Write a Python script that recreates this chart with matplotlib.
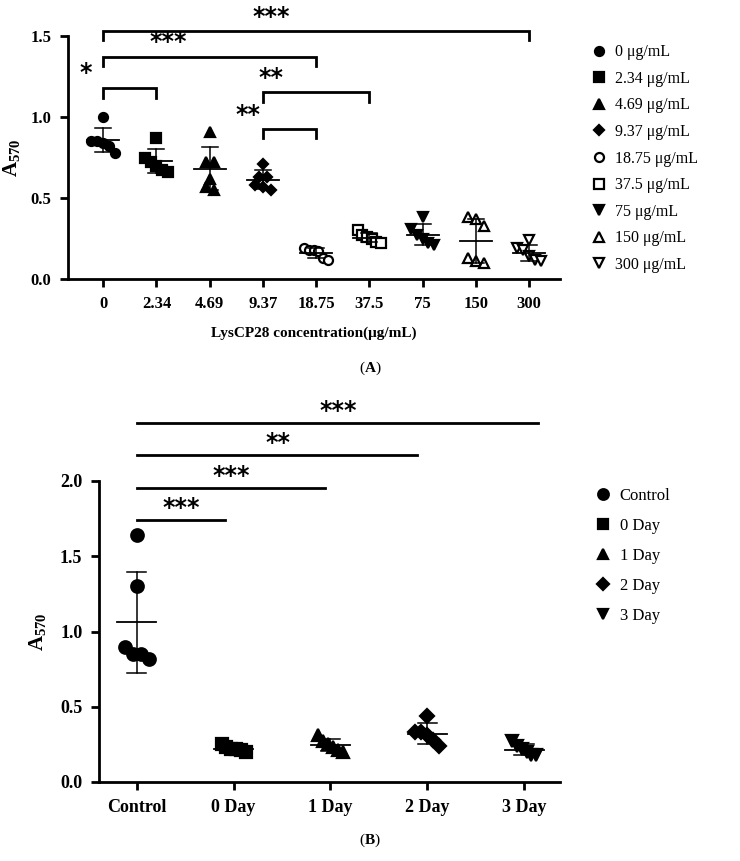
import numpy as np
import matplotlib
matplotlib.use("Agg")
import matplotlib.pyplot as plt
from matplotlib.lines import Line2D

plt.rcParams['font.family'] = ['Liberation Serif', 'DejaVu Serif']
plt.rcParams['mathtext.fontset'] = 'custom'
plt.rcParams['mathtext.rm'] = 'Liberation Serif'
plt.rcParams['mathtext.bf'] = 'Liberation Serif:bold'

# ---- panel A data: LysCP28 concentrations ----
conc_labels = ['0', '2.34', '4.69', '9.37', '18.75', '37.5', '75', '150', '300']
a_0 = [1.00, 0.85, 0.85, 0.84, 0.82, 0.78]
a_234 = [0.87, 0.75, 0.72, 0.70, 0.67, 0.66]
a_469 = [0.91, 0.72, 0.72, 0.62, 0.57, 0.55]
a_937 = [0.71, 0.63, 0.63, 0.58, 0.57, 0.55]
a_1875 = [0.19, 0.18, 0.18, 0.17, 0.13, 0.12]
a_375 = [0.30, 0.27, 0.26, 0.25, 0.23, 0.22]
a_75 = [0.38, 0.31, 0.27, 0.25, 0.22, 0.21]
a_150 = [0.38, 0.37, 0.33, 0.13, 0.11, 0.10]
a_300 = [0.24, 0.19, 0.18, 0.14, 0.12, 0.11]
groups_a = [a_0, a_234, a_469, a_937, a_1875, a_375, a_75, a_150, a_300]

# significance: (group i, group j, stars)
sig_a = [(0, 8, '***'), (0, 4, '***'), (0, 1, '*'), (3, 5, '**'), (3, 4, '**')]

# ---- panel B data: days ----
day_labels = ['Control', '0 Day', '1 Day', '2 Day', '3 Day']
b_ctrl = [1.64, 1.30, 0.90, 0.85, 0.85, 0.82]
b_d0 = [0.25, 0.23, 0.22, 0.22, 0.21, 0.20]
b_d1 = [0.31, 0.27, 0.25, 0.23, 0.21, 0.20]
b_d2 = [0.44, 0.33, 0.33, 0.31, 0.28, 0.24]
b_d3 = [0.27, 0.24, 0.22, 0.20, 0.18, 0.18]
groups_b = [b_ctrl, b_d0, b_d1, b_d2, b_d3]
sig_b = [(0, 1, '***'), (0, 2, '***'), (0, 3, '**'), (0, 4, '***')]

# marker styles (marker, filled, size)
styles_a = [('o', True, 6.5), ('s', True, 6.5), ('^', True, 7), ('D', True, 5),
            ('o', False, 6.5), ('s', False, 6.5), ('v', True, 7),
            ('^', False, 7.5), ('v', False, 7.5)]
styles_b = [('o', True, 9), ('s', True, 8.5), ('^', True, 9), ('D', True, 7),
            ('v', True, 9)]


def spread(vals, w, tol):
    # scatter-dot layout: close values are spread sideways, lone ones stay centred
    order = np.argsort(-vals)
    off = np.zeros(len(vals))
    clusters = [[order[0]]]
    for k in order[1:]:
        if vals[clusters[-1][-1]] - vals[k] < tol:
            clusters[-1].append(k)
        else:
            clusters.append([k])
    for c in clusters:
        n = len(c)
        if n > 1:
            ww = w * min(1.0, (n - 1) / 3)
            off[c] = np.linspace(-ww, ww, n)
    return off


def draw_groups(ax, groups, styles, jit, tol, mw, cw):
    for i, vals in enumerate(groups):
        vals = np.asarray(vals)
        m, filled, ms = styles[i]
        xs = i + spread(vals, jit, tol)
        ax.plot(xs, vals, linestyle='none', marker=m, ms=ms,
                mfc='black' if filled else 'white', mec='black',
                mew=1.6, zorder=2, clip_on=False)
        mean = vals.mean()
        sd = vals.std(ddof=1)
        ax.plot([i - mw, i + mw], [mean, mean], color='black', lw=1.3, zorder=3)
        ax.plot([i, i], [mean - sd, mean + sd], color='black', lw=1.1, zorder=3)
        for yy in (mean - sd, mean + sd):
            ax.plot([i - cw, i + cw], [yy, yy], color='black', lw=1.1, zorder=3)


def style_axis(ax, fs):
    for s in ('top', 'right'):
        ax.spines[s].set_visible(False)
    for s in ('left', 'bottom'):
        ax.spines[s].set_linewidth(2.0)
    ax.tick_params(width=2.0, length=6, direction='out', labelsize=fs, pad=6)
    for lab in ax.get_xticklabels() + ax.get_yticklabels():
        lab.set_fontweight('bold')


def handles(styles, labels, scale):
    out = []
    for (m, filled, ms), lab in zip(styles, labels):
        out.append(Line2D([], [], linestyle='none', marker=m, ms=ms * scale,
                          mfc='black' if filled else 'white', mec='black',
                          mew=1.6, label=lab))
    return out


fig = plt.figure(figsize=(7.4, 8.61), dpi=100)

# ---------------- panel A ----------------
axA = fig.add_axes([68 / 740, 1 - 279 / 861, 492 / 740, 243 / 861])
draw_groups(axA, groups_a, styles_a, 0.22, 0.045, 0.3, 0.15)
axA.set_xlim(-0.66, 8.58)
axA.set_ylim(0, 1.5)
axA.set_xticks(range(len(conc_labels)))
axA.set_xticklabels(conc_labels)
axA.set_yticks([0, 0.5, 1.0, 1.5])
axA.set_yticklabels(['0.0', '0.5', '1.0', '1.5'])
style_axis(axA, 12)
axA.set_xlabel('LysCP28 concentration(μg/mL)', fontsize=11, fontweight='bold',
               labelpad=11)
axA.set_ylabel(r'$\mathbf{A_{570}}$', fontsize=15)
axA.yaxis.set_label_coords(-0.093, 0.5)

# bracket heights / star positions for panel A (data units)
brk_a = [(1.531, 1.475, 3.15, 1.62), (1.372, 1.317, 1.22, 1.465),
         (1.177, 1.115, -0.32, 1.27), (1.152, 1.094, 3.15, 1.243),
         (0.926, 0.868, 2.72, 1.013)]
for (i, j, stars), (top, leg, sx, sy) in zip(sig_a, brk_a):
    axA.plot([i, i, j, j], [leg, top, top, leg], color='black', lw=2.0,
             clip_on=False, solid_joinstyle='miter')
    axA.text(sx, sy, stars, ha='center', va='center', fontsize=17,
             fontweight='bold', family='DejaVu Sans')

fig.legend(handles=handles(styles_a, [c + ' μg/mL' for c in conc_labels], 1.0),
           loc='upper left', bbox_to_anchor=(585 / 740, 1 - 38 / 861),
           frameon=False, fontsize=11.5, labelspacing=0.66,
           handletextpad=0.5, handlelength=1.0, borderaxespad=0)

fig.text(370 / 740, 1 - 368 / 861, r'($\mathbf{A}$)', ha='center', va='center',
         fontsize=11)

# ---------------- panel B ----------------
axB = fig.add_axes([99 / 740, 1 - 782 / 861, 461 / 740, 301 / 861])
draw_groups(axB, groups_b, styles_b, 0.125, 0.08, 0.2, 0.1)
axB.set_xlim(-0.39, 4.37)
axB.set_ylim(0, 2.0)
axB.set_xticks(range(len(day_labels)))
axB.set_xticklabels(day_labels)
axB.set_yticks([0, 0.5, 1.0, 1.5, 2.0])
axB.set_yticklabels(['0.0', '0.5', '1.0', '1.5', '2.0'])
style_axis(axB, 13)
axB.set_ylabel(r'$\mathbf{A_{570}}$', fontsize=15)
axB.yaxis.set_label_coords(-0.11, 0.5)

brk_b = [(1.741, 0.91, 0.46, 1.82), (1.951, 1.94, 0.98, 2.03),
         (2.173, 2.89, 1.46, 2.255), (2.383, 4.14, 2.08, 2.465)]
for (i, j, stars), (yy, xend, sx, sy) in zip(sig_b, brk_b):
    axB.plot([i, xend], [yy, yy], color='black', lw=2.0, clip_on=False)
    axB.text(sx, sy, stars, ha='center', va='center', fontsize=17,
             fontweight='bold', family='DejaVu Sans')

fig.legend(handles=handles(styles_b, day_labels, 0.85),
           loc='upper left', bbox_to_anchor=(588 / 740, 1 - 481 / 861),
           frameon=False, fontsize=12, labelspacing=0.85,
           handletextpad=0.5, handlelength=1.0, borderaxespad=0)

fig.text(370 / 740, 1 - 840 / 861, r'($\mathbf{B}$)', ha='center', va='center',
         fontsize=11)

fig.savefig('out.png', dpi=100)
